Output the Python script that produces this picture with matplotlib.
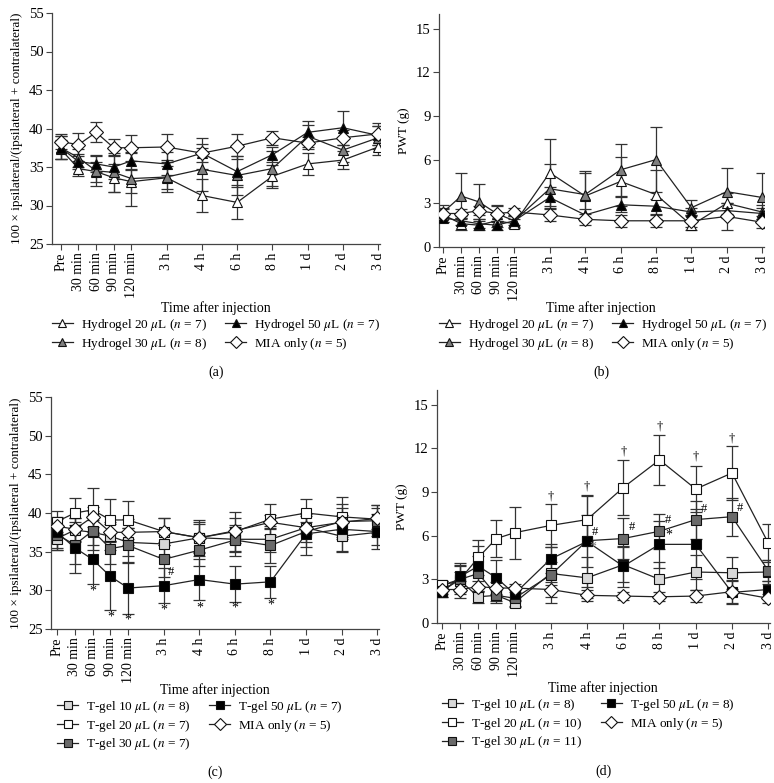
import matplotlib.pyplot as plt
import numpy as np

plt.rcParams['font.family'] = ['Liberation Serif', 'DejaVu Serif']
plt.rcParams['mathtext.fontset'] = 'stix'

# time points; slot = position on the broken time axis
times = ['Pre', '30 min', '60 min', '90 min', '120 min', '3 h', '4 h', '6 h', '8 h', '1 d', '2 d', '3 d']
slot = [0, 1, 2, 3, 4, 6, 8, 10, 12, 14, 16, 18]

# (a) weight bearing, hydrogel
a_h20 = [37.3, 34.8, 34.4, 33.6, 33.1, 33.6, 31.3, 30.4, 33.8, 35.4, 35.9, 37.6]
a_h20_se = [1.2, 1.0, 1.3, 1.8, 1.5, 1.5, 2.2, 2.2, 1.5, 1.4, 1.2, 1.0]
a_h30 = [37.5, 36.2, 34.5, 34.3, 33.5, 33.7, 34.7, 33.9, 34.8, 39.0, 37.2, 38.8]
a_h30_se = [1.5, 1.2, 2.0, 2.5, 3.5, 2.0, 2.8, 2.5, 2.3, 1.4, 1.5, 1.5]
a_h50 = [37.5, 35.7, 35.4, 35.0, 35.8, 35.4, 36.8, 34.4, 36.6, 39.5, 40.1, 39.1]
a_h50_se = [1.5, 1.0, 1.0, 1.5, 1.0, 1.5, 1.2, 2.0, 1.0, 1.5, 2.2, 1.2]
a_mia = [38.3, 37.9, 39.5, 37.5, 37.5, 37.6, 36.8, 37.7, 38.8, 38.1, 38.8, 39.3]
a_mia_se = [1.0, 1.5, 1.3, 1.1, 1.7, 1.7, 2.0, 1.6, 0.9, 0.8, 1.0, 1.4]

# (b) PWT, hydrogel
b_h20 = [2.2, 1.6, 1.5, 1.8, 1.6, 5.1, 3.5, 4.5, 3.6, 1.5, 3.0, 2.4]
b_h20_se = [0.5, 0.4, 0.3, 0.4, 0.3, 2.3, 1.6, 1.7, 1.7, 0.3, 0.7, 0.5]
b_h30 = [2.4, 3.5, 3.1, 2.3, 1.8, 4.0, 3.6, 5.3, 6.0, 2.7, 3.8, 3.4]
b_h30_se = [0.5, 1.6, 1.2, 0.6, 0.4, 1.7, 1.6, 1.8, 2.25, 0.5, 1.65, 1.7]
b_h50 = [2.0, 1.8, 1.6, 1.5, 1.8, 3.4, 2.2, 2.9, 2.8, 2.4, 2.5, 2.3]
b_h50_se = [0.3, 0.3, 0.3, 0.3, 0.3, 0.7, 0.4, 0.5, 0.5, 0.3, 0.5, 0.4]
b_mia = [2.3, 2.3, 2.5, 2.3, 2.4, 2.2, 1.9, 1.8, 1.8, 1.8, 2.1, 1.7]
b_mia_se = [0.3, 0.3, 0.3, 0.5, 0.3, 0.4, 0.4, 0.4, 0.4, 0.4, 0.9, 0.4]

# (c) weight bearing, T-gel
c_t10 = [36.7, 37.8, 37.5, 37.0, 36.2, 36.0, 36.8, 36.6, 36.6, 38.1, 37.0, 37.5]
c_t10_se = [1.5, 1.6, 1.6, 1.8, 1.8, 1.6, 1.8, 1.6, 1.7, 1.8, 2.0, 1.7]
c_t20 = [38.9, 40.0, 40.4, 39.1, 39.1, 37.6, 36.8, 37.6, 39.2, 40.0, 39.5, 39.2]
c_t20_se = [1.3, 2.0, 2.8, 2.7, 2.4, 1.8, 2.3, 2.5, 2.0, 1.8, 2.6, 1.8]
c_t30 = [37.2, 35.9, 37.7, 35.4, 35.8, 34.0, 35.2, 36.5, 35.8, 37.6, 38.9, 39.0]
c_t30_se = [2.0, 2.5, 2.5, 2.0, 2.3, 2.3, 2.0, 2.0, 2.3, 2.0, 2.3, 2.0]
c_t50 = [37.5, 35.5, 34.0, 31.8, 30.3, 30.6, 31.4, 30.8, 31.1, 37.3, 37.9, 37.6]
c_t50_se = [2.0, 3.3, 3.2, 4.4, 3.3, 2.3, 2.7, 2.3, 2.1, 2.7, 2.8, 2.3]
c_mia = a_mia
c_mia_se = a_mia_se
c_star_x = ['60 min', '90 min', '120 min', '3 h', '4 h', '6 h', '8 h']
c_star_y = [29.9, 26.5, 26.2, 27.4, 27.7, 27.7, 28.1]

# (d) PWT, T-gel
d_t10 = [2.6, 2.9, 1.8, 1.9, 1.4, 3.4, 3.1, 4.0, 3.0, 3.5, 3.45, 3.5]
d_t10_se = [0.3, 0.6, 0.4, 0.4, 0.2, 0.8, 1.4, 1.2, 1.2, 1.2, 1.1, 0.8]
d_t20 = [2.6, 3.0, 4.5, 5.8, 6.2, 6.7, 7.1, 9.3, 11.2, 9.2, 10.3, 5.5]
d_t20_se = [0.3, 1.0, 1.2, 1.3, 1.8, 1.5, 1.7, 1.9, 1.7, 1.6, 1.85, 1.3]
d_t30 = [2.2, 3.0, 3.4, 1.9, 1.7, 3.3, 5.65, 5.8, 6.3, 7.1, 7.3, 3.6]
d_t30_se = [0.4, 0.9, 1.2, 0.5, 0.6, 1.9, 1.8, 1.4, 1.2, 1.3, 1.3, 0.7]
d_t50 = [2.1, 3.2, 3.9, 3.1, 2.0, 4.4, 5.6, 3.9, 5.4, 5.4, 2.1, 2.3]
d_t50_se = [0.3, 0.9, 1.4, 1.2, 0.5, 1.0, 3.1, 1.4, 1.6, 2.4, 0.8, 0.6]
d_mia = [2.3, 2.3, 2.5, 2.4, 2.4, 2.3, 1.9, 1.85, 1.8, 1.85, 2.15, 1.7]
d_mia_se = [0.3, 0.6, 0.4, 0.4, 0.3, 0.5, 0.4, 0.3, 0.3, 0.4, 0.8, 0.3]
d_dag_x = ['3 h', '4 h', '6 h', '8 h', '1 d', '2 d']
d_dag_y = [8.7, 9.4, 11.8, 13.5, 11.45, 12.7]
d_hash_x = ['4 h', '6 h', '8 h', '1 d', '2 d']
d_hash_y = [6.25, 6.6, 7.05, 7.8, 7.9]
d_star_x = ['4 h', '8 h']
d_star_y = [5.2, 6.05]

W, H = 774, 783
fig = plt.figure(figsize=(W / 100, H / 100), dpi=100)


def px_axes(l, t, r, b):
    return fig.add_axes([l / W, 1 - b / H, (r - l) / W, (b - t) / H])


def xs(labels):
    return [slot[times.index(t)] for t in labels]


def draw(ax, series):
    handles = []
    for y, e, mk, fc, ms, lab in series:
        ax.errorbar(slot, y, yerr=e, fmt='none', ecolor='#333333', elinewidth=0.9,
                    capsize=4, capthick=0.9, zorder=2)
        h, = ax.plot(slot, y, '-', color='#222222', lw=0.9, marker=mk, mfc=fc,
                     mec='#111111', mew=0.8, ms=ms, zorder=3, label=lab)
        handles.append(h)
    return handles


def style(ax, ylim, yticks, ylabel, xlim):
    ax.set_ylim(*ylim)
    ax.set_yticks(yticks)
    ax.set_xlim(*xlim)
    ax.set_xticks(slot)
    ax.set_xticklabels(times, rotation=90, fontsize=10)
    ax.tick_params(axis='y', labelsize=10.5, length=4, width=0.8, color='#444444', pad=2)
    ax.tick_params(axis='x', length=4, width=0.8, color='#444444', pad=2)
    for s in ['top', 'right']:
        ax.spines[s].set_visible(False)
    for s in ['left', 'bottom']:
        ax.spines[s].set_color('#444444')
        ax.spines[s].set_linewidth(0.9)
    ax.set_ylabel(ylabel, fontsize=9.5, labelpad=4)


wb_label = '100 × ipsilateral/(ipsilateral + contralateral)'

tri = '^'
sq = 's'
dia = 'D'
white, gray, black = 'white', '#7f7f7f', 'black'
lgray, dgray = '#d8d8d8', '#6a6a6a'

# (a)
ax = px_axes(52, 13, 380, 244)
ha = draw(ax, [
    (a_h20, a_h20_se, tri, white, 7.5, r'Hydrogel 20 $\mu$L ($n$ = 7)'),
    (a_h30, a_h30_se, tri, gray, 7.5, r'Hydrogel 30 $\mu$L ($n$ = 8)'),
    (a_h50, a_h50_se, tri, black, 7.5, r'Hydrogel 50 $\mu$L ($n$ = 7)'),
    (a_mia, a_mia_se, dia, white, 7.2, r'MIA only ($n$ = 5)'),
])
style(ax, (25, 55), [25, 30, 35, 40, 45, 50, 55], wb_label, (-0.5, 18.1))

# (b)
ax = px_axes(439, 14, 764, 247)
hb = draw(ax, [
    (b_h20, b_h20_se, tri, white, 7.5, r'Hydrogel 20 $\mu$L ($n$ = 7)'),
    (b_h30, b_h30_se, tri, gray, 7.5, r'Hydrogel 30 $\mu$L ($n$ = 8)'),
    (b_h50, b_h50_se, tri, black, 7.5, r'Hydrogel 50 $\mu$L ($n$ = 7)'),
    (b_mia, b_mia_se, dia, white, 7.2, r'MIA only ($n$ = 5)'),
])
style(ax, (0, 16), [0, 3, 6, 9, 12, 15], 'PWT (g)', (-0.25, 18.1))

# (c)
ax = px_axes(51, 397, 379, 629)
hc = draw(ax, [
    (c_t10, c_t10_se, sq, lgray, 7, r'T-gel 10 $\mu$L ($n$ = 8)'),
    (c_t20, c_t20_se, sq, white, 7, r'T-gel 20 $\mu$L ($n$ = 7)'),
    (c_t30, c_t30_se, sq, dgray, 7, r'T-gel 30 $\mu$L ($n$ = 7)'),
    (c_t50, c_t50_se, sq, black, 7, r'T-gel 50 $\mu$L ($n$ = 7)'),
    (c_mia, c_mia_se, dia, white, 7.2, r'MIA only ($n$ = 5)'),
])
style(ax, (25, 55), [25, 30, 35, 40, 45, 50, 55], wb_label, (-0.34, 18.1))
for x, y in zip(xs(c_star_x), c_star_y):
    ax.text(x, y, '*', ha='center', va='center', fontsize=10)
ax.text(6.4, 32.4, '#', ha='center', va='center', fontsize=9)

# (d)
ax = px_axes(437, 390, 770, 623)
hd = draw(ax, [
    (d_t10, d_t10_se, sq, lgray, 7, r'T-gel 10 $\mu$L ($n$ = 8)'),
    (d_t20, d_t20_se, sq, white, 7, r'T-gel 20 $\mu$L ($n$ = 10)'),
    (d_t30, d_t30_se, sq, dgray, 7, r'T-gel 30 $\mu$L ($n$ = 11)'),
    (d_t50, d_t50_se, sq, black, 7, r'T-gel 50 $\mu$L ($n$ = 8)'),
    (d_mia, d_mia_se, dia, white, 7.2, r'MIA only ($n$ = 5)'),
])
style(ax, (0, 16), [0, 3, 6, 9, 12, 15], 'PWT (g)', (-0.28, 18.1))
for x, y in zip(xs(d_dag_x), d_dag_y):
    ax.text(x, y, '†', ha='center', va='center', fontsize=9)
for x, y in zip(xs(d_hash_x), d_hash_y):
    ax.text(x + 0.45, y, '#', ha='center', va='center', fontsize=9)
for x, y, dx in zip(xs(d_star_x), d_star_y, [0.3, 0.5]):
    ax.text(x + dx, y, '*', ha='center', va='center', fontsize=10,
            color='#777777' if dx < 0.4 else 'black')

# titles, legends, panel letters
panels = [(ha, 216, 216, 308, 372, '(a)'), (hb, 601, 603, 308, 372, '(b)'),
          (hc, 215, 200, 690, 772, '(c)'), (hd, 603, 588, 688, 771, '(d)')]
for hs, cx, lx, ty, ly, letter in panels:
    fig.text(cx / W, 1 - ty / H, 'Time after injection', ha='center', va='center', fontsize=10)
    fig.legend(handles=hs, ncol=2, loc='upper center', bbox_to_anchor=(lx / W, 1 - (ty + 9) / H),
               frameon=False, fontsize=9.5, handlelength=1.6, handletextpad=0.6,
               columnspacing=1.4, labelspacing=0.2, borderaxespad=0, borderpad=0,
               markerscale=0.85)
    fig.text(cx / W, 1 - ly / H, letter, ha='center', va='center', fontsize=10)

fig.savefig('out.png', dpi=100)
